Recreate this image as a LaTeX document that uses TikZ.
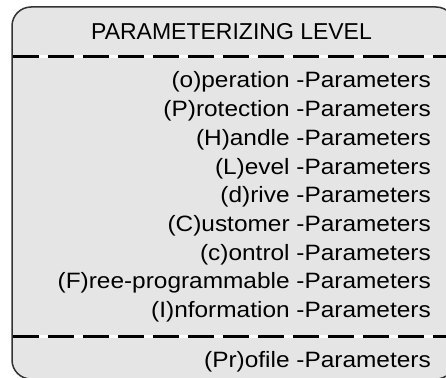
\documentclass[tikz,border=0pt]{standalone}
\usepackage{fontspec}
\setmainfont{Liberation Sans}
\newfontfamily\rowfont[FakeStretch=1.1]{Liberation Sans}
\definecolor{boxfill}{HTML}{E5E5E5}
\definecolor{boxline}{HTML}{333333}
\begin{document}
\begin{tikzpicture}[x=1pt,y=-1pt,
  rowtext/.style={inner sep=0pt,anchor=base east,font=\rowfont\fontsize{22.2}{26}\selectfont,text=black},
  headtext/.style={inner sep=0pt,anchor=base,font=\fontsize{23}{27}\selectfont,text=black},
  sepline/.style={line width=2.5pt,black,dash pattern=on 26pt off 9pt},
  sepbase/.style={line width=2.5pt,white}]
\useasboundingbox (0,0) rectangle (446,377);
\begin{scope}
\clip (0,0) rectangle (446,377);
\draw[line width=1.5pt,draw=boxline,fill=boxfill,rounded corners=19pt] (12,7) rectangle (455,379);
\coordinate (s1a) at (12.75,56.7);
\coordinate (s1b) at (455,56.7);
\coordinate (s2a) at (12.75,336.7);
\coordinate (s2b) at (455,336.7);
\draw[sepbase] (s1a) -- (s1b);
\draw[sepline] (s1a) -- (s1b);
\draw[sepbase] (s2a) -- (s2b);
\draw[sepline] (s2a) -- (s2b);
\end{scope}
\node[headtext] (head) at (231.5,40) {PARAMETERIZING LEVEL};
\node[rowtext] (r0) at (431,88.0) {(o)peration -Parameters};
\node[rowtext] (r1) at (431,116.7) {(P)rotection -Parameters};
\node[rowtext] (r2) at (431,145.4) {(H)andle -Parameters};
\node[rowtext] (r3) at (431,174.1) {(L)evel -Parameters};
\node[rowtext] (r4) at (431,202.8) {(d)rive -Parameters};
\node[rowtext] (r5) at (431,231.5) {(C)ustomer -Parameters};
\node[rowtext] (r6) at (431,260.2) {(c)ontrol -Parameters};
\node[rowtext] (r7) at (431,288.9) {(F)ree-programmable -Parameters};
\node[rowtext] (r8) at (431,317.6) {(I)nformation -Parameters};
\node[rowtext] (r9) at (431,367) {(Pr)ofile -Parameters};
\end{tikzpicture}
\end{document}
